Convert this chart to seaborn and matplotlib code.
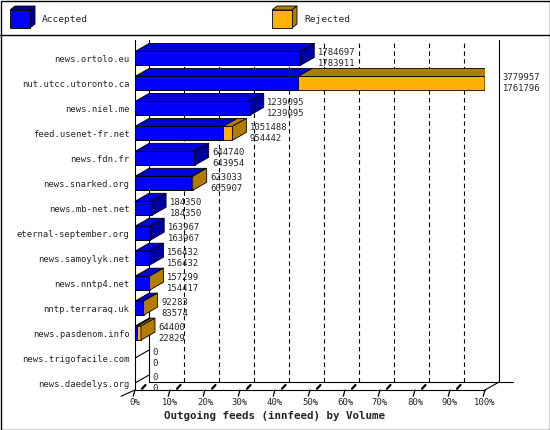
import matplotlib
matplotlib.use("Agg")
import matplotlib.pyplot as plt
import seaborn as sns
import pandas as pd
from matplotlib.patches import Polygon, Rectangle

hosts = ["news.ortolo.eu", "nut.utcc.utoronto.ca", "news.niel.me", "feed.usenet-fr.net",
         "news.fdn.fr", "news.snarked.org", "news.mb-net.net", "eternal-september.org",
         "news.samoylyk.net", "news.nntp4.net", "nntp.terraraq.uk", "news.pasdenom.info",
         "news.trigofacile.com", "news.daedelys.org"]
offered = [1784697, 3779957, 1239095, 1051488, 644740, 623033, 184350, 163967,
           156432, 157299, 92283, 64400, 0, 0]
accepted = [1783911, 1761796, 1239095, 954442, 643954, 605907, 184350, 163967,
            156432, 154417, 83574, 22829, 0, 0]

BLUE, BLUE_TOP, BLUE_SIDE = "#0000ff", "#0000d8", "#0000a0"
ORANGE, ORANGE_TOP = "#ffb000", "#b07d00"
MONO = "DejaVu Sans Mono"
FS = 6.4

mx = max(offered)
df = pd.DataFrame({"host": hosts,
                   "tot": [o / mx * 100 for o in offered],
                   "acc": [a / mx * 100 for a in accepted]})

sns.set_style("white")
plt.rcParams["font.family"] = [MONO]
fig = plt.figure(figsize=(5.5, 4.3), dpi=100)
ax = fig.add_axes([135 / 550, 40 / 430, 350 / 550, 350 / 430])

h = 0.56
dx, dy = 4.0, -0.32
y0 = 13.28

sns.barplot(data=df, x="tot", y="host", orient="h", color=ORANGE, width=h, saturation=1,
            edgecolor="black", linewidth=0.6, ax=ax, zorder=3)
sns.barplot(data=df, x="acc", y="host", orient="h", color=BLUE, width=h, saturation=1,
            edgecolor="black", linewidth=0.6, ax=ax, zorder=3)

# back wall grid
for g in range(10, 100, 10):
    ax.plot([g + dx, g + dx], [y0 + dy, -0.74], ls=(0, (4, 3)), color="black", lw=0.8, zorder=1)
ax.plot([0, 0], [y0, -0.74], color="black", lw=0.8, clip_on=False)
ax.plot([dx, dx], [y0 + dy, -0.74], color="black", lw=0.8, clip_on=False)
ax.plot([100 + dx, 100 + dx], [y0 + dy, -0.74], color="black", lw=0.8, clip_on=False)
ax.plot([0, 100], [y0, y0], color="black", lw=0.8, clip_on=False)
ax.plot([dx, 104 + dx], [y0 + dy, y0 + dy], color="black", lw=0.8, clip_on=False)
ax.plot([100, 100 + dx], [y0, y0 + dy], color="black", lw=0.8, clip_on=False)
ax.plot([-4, 0], [y0 + 0.25, y0], color="black", lw=0.8, clip_on=False)
for g in range(0, 101, 10):
    ax.plot([g, g - 0.5], [y0, y0 + 0.25], color="black", lw=0.9, clip_on=False)
    if g < 100:
        ax.plot([g + 2, g + 3], [y0 - 0.05, y0 - 0.2], color="black", lw=1.6, clip_on=False)
    ax.text(g, y0 + 0.5, f"{g}%", ha="center", va="center", fontsize=FS)

for i, (t, a) in enumerate(zip(df["tot"], df["acc"])):
    yt, yb = i - h / 2, i + h / 2
    if t > 0:
        ax.add_patch(Polygon([(0, yt), (dx, yt + dy), (a + dx, yt + dy), (a, yt)],
                             fc=BLUE_TOP, ec="black", lw=0.6, zorder=4))
        if t > a:
            ax.add_patch(Polygon([(a, yt), (a + dx, yt + dy), (t + dx, yt + dy), (t, yt)],
                                 fc=ORANGE_TOP, ec="black", lw=0.6, zorder=4))
        side = ORANGE_TOP if t - a > 0.05 else BLUE_SIDE
        ax.add_patch(Polygon([(t, yt), (t + dx, yt + dy), (t + dx, yb + dy), (t, yb)],
                             fc=side, ec="black", lw=0.6, zorder=4))
    else:
        ax.plot([0, dx], [i, i + dy], color="black", lw=0.8)
    ax.text(t + dx + 1, i - 0.22, str(offered[i]), fontsize=FS, va="center", clip_on=False)
    ax.text(t + dx + 1, i + 0.22, str(accepted[i]), fontsize=FS, va="center", clip_on=False)

ax.set_xlim(0, 100)
ax.set_ylim(y0, -0.74)
ax.set_xlabel("")
ax.set_ylabel("")
ax.set_xticks([])
ax.tick_params(axis="y", length=0, pad=4, labelsize=FS)
for s in ax.spines.values():
    s.set_visible(False)
fig.text(274 / 550, 1 - 416 / 430, "Outgoing feeds (innfeed) by Volume", ha="center",
         va="center", fontsize=7.8, fontweight="bold")

# legend box and frame
fig.add_artist(Rectangle((0.5 / 550, 0.5 / 430), 549 / 550, 429 / 430, transform=fig.transFigure,
                         fill=False, ec="black", lw=1))
fig.add_artist(plt.Line2D([0, 1], [1 - 35 / 430] * 2, transform=fig.transFigure, color="black", lw=1))
for px, col, top, lab in [(10, BLUE, BLUE_SIDE, "Accepted"), (272, ORANGE, ORANGE_TOP, "Rejected")]:
    x, y = px / 550, 1 - 28 / 430
    w, hh, d, e = 20 / 550, 18 / 430, 5 / 550, 4 / 430
    fig.add_artist(Polygon([(x, y + hh), (x + d, y + hh + e), (x + w + d, y + hh + e), (x + w, y + hh)],
                           transform=fig.transFigure, fc=top, ec="black", lw=0.6))
    fig.add_artist(Polygon([(x + w, y), (x + w, y + hh), (x + w + d, y + hh + e), (x + w + d, y + e)],
                           transform=fig.transFigure, fc=top, ec="black", lw=0.6))
    fig.add_artist(Rectangle((x, y), w, hh, transform=fig.transFigure, fc=col, ec="black", lw=0.6))
    fig.text(x + 32 / 550, y + hh / 2, lab, va="center", fontsize=FS + 0.4)

fig.savefig("out.png", dpi=100)
